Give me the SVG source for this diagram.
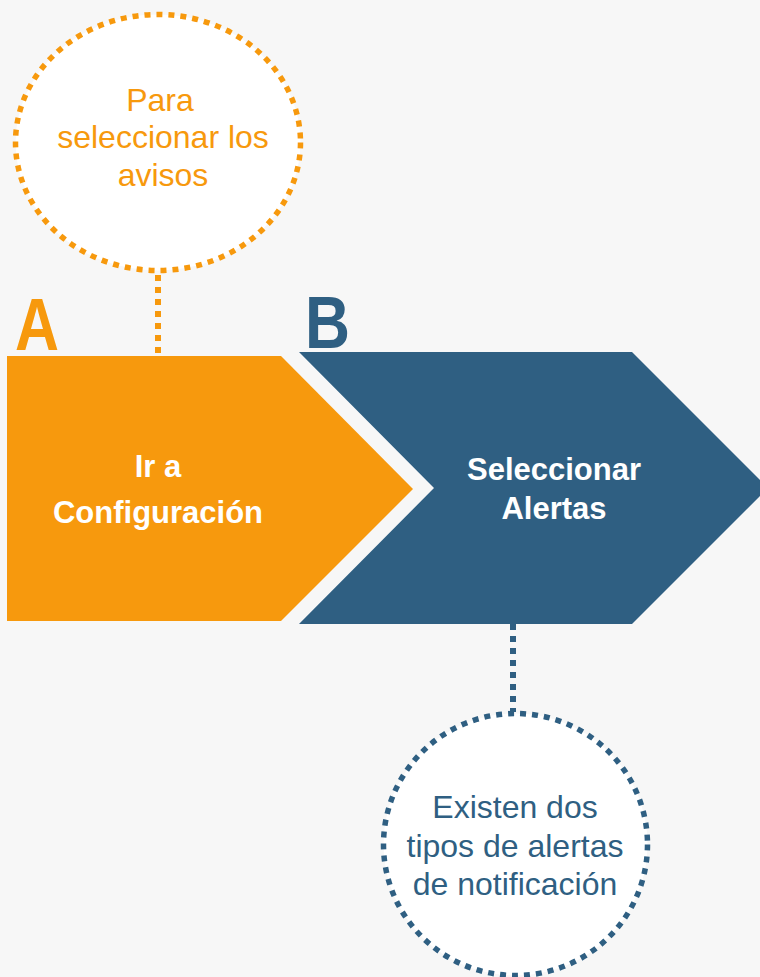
<svg xmlns="http://www.w3.org/2000/svg" width="760" height="977" viewBox="0 0 760 977">
<style>
.bg{fill:#f7f7f7}
.or{fill:#f7990d}
.bl{fill:#2f5f82}
.circO{fill:#ffffff;stroke:#f7990d;stroke-width:5.5;stroke-dasharray:6 6}
.circB{fill:#ffffff;stroke:#2f5f82;stroke-width:5.5;stroke-dasharray:6 6}
.conO{stroke:#f7990d;stroke-width:6;stroke-dasharray:6 6;fill:none}
.conB{stroke:#2f5f82;stroke-width:6;stroke-dasharray:6 6;fill:none}
.lbl{font-family:"Liberation Sans",Arial,sans-serif;font-size:32px;text-anchor:middle}
.node{font-family:"Liberation Sans",Arial,sans-serif;font-size:31px;font-weight:bold;fill:#ffffff;text-anchor:middle}
.big{font-family:"Liberation Sans",Arial,sans-serif;font-size:74px;font-weight:bold}
</style>
<rect class="bg" x="0" y="0" width="760" height="977"/>
<g id="connectors">
<line class="conO" x1="158" y1="275" x2="158" y2="354"/>
<line class="conB" x1="513" y1="624" x2="513" y2="712"/>
</g>
<g id="nodeA">
<polygon class="or" points="7,356 281,356 413,489 281,621 7,621"/>
<text class="big" x="15" y="350" fill="#f7990d" textLength="44" lengthAdjust="spacingAndGlyphs">A</text>
<text class="node" x="158" y="477">Ir a</text>
<text class="node" x="158" y="523">Configuración</text>
</g>
<g id="nodeB">
<polygon class="bl" points="299,352 632,352 768,488 632,624 299,624 434,488"/>
<text class="big" x="305" y="348" fill="#2f5f82" textLength="45" lengthAdjust="spacingAndGlyphs">B</text>
<text class="node" x="554" y="480">Seleccionar</text>
<text class="node" x="554" y="519">Alertas</text>
</g>
<g id="noteA">
<ellipse class="circO" cx="158" cy="142.5" rx="142.5" ry="128"/>
<text class="lbl" x="160" y="111" fill="#f7990d">Para</text>
<text class="lbl" x="163" y="148" fill="#f7990d">seleccionar los</text>
<text class="lbl" x="163" y="186" fill="#f7990d">avisos</text>
</g>
<g id="noteB">
<ellipse class="circB" cx="515.5" cy="844.5" rx="132" ry="131"/>
<text class="lbl" x="515" y="818" fill="#2f5f82">Existen dos</text>
<text class="lbl" x="515" y="857" fill="#2f5f82">tipos de alertas</text>
<text class="lbl" x="515" y="895" fill="#2f5f82">de notificación</text>
</g>
</svg>
